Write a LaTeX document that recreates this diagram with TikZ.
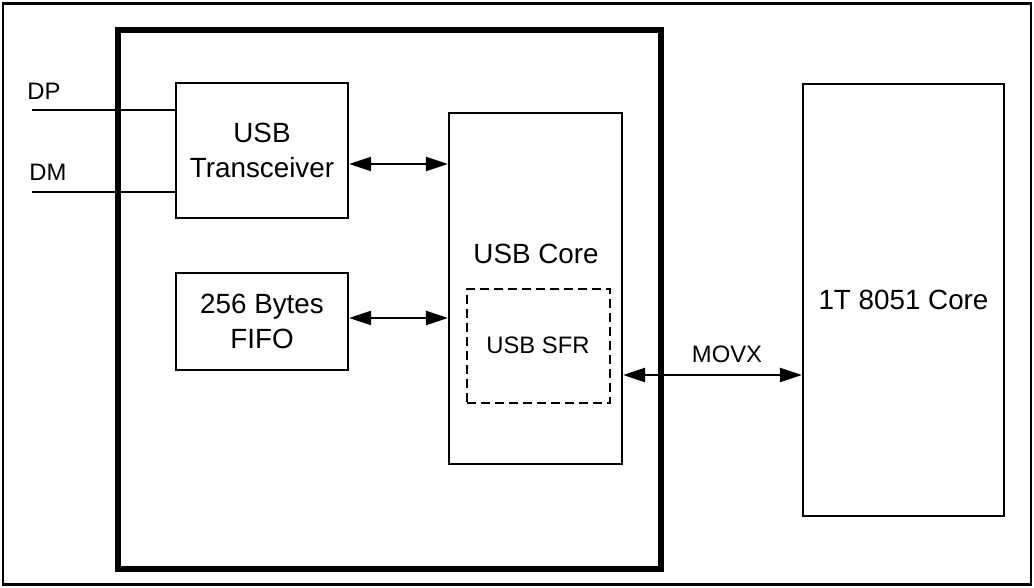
\documentclass[tikz,border=0pt]{standalone}
\usepackage{fontspec}
\setmainfont{Liberation Sans}
\usetikzlibrary{arrows.meta}
\begin{document}
\begin{tikzpicture}[x=1pt,y=-1pt,
  box/.style={draw,line width=2.2pt,rectangle,inner sep=0pt,align=center,font=\fontsize{27.8}{35}\selectfont},
  lbl/.style={inner sep=0pt,font=\fontsize{23.8}{28}\selectfont},
  big/.style={inner sep=0pt,font=\fontsize{27.8}{35}\selectfont},
  bus/.style={line width=2.2pt,{Triangle[length=22pt,width=14pt]}-{Triangle[length=22pt,width=14pt]}},
  wire/.style={line width=2.2pt}]
\useasboundingbox (0,0) rectangle (1034,588);
\node[draw,line width=2.2pt,minimum width=1028pt,minimum height=581pt,inner sep=0pt] (frame) at (517,294) {};
\node[draw,line width=5.5pt,minimum width=543pt,minimum height=539pt,inner sep=0pt] (chip) at (389.5,299.5) {};
\node[box,minimum width=172pt,minimum height=135pt] (trans) at (262,150.5) {USB\\Transceiver};
\node[box,minimum width=172pt,minimum height=97pt] (fifo) at (262,321.5) {256 Bytes\\FIFO};
\node[box,minimum width=173pt,minimum height=351pt] (core) at (535.5,288.5) {};
\node[big] (corelbl) at (536,254) {USB Core};
\node[draw,line width=2.2pt,dash pattern=on 9pt off 5pt,minimum width=143pt,minimum height=114pt,inner sep=0pt] (sfr) at (538.5,346) {};
\node[lbl] (sfrlbl) at (538,345) {USB SFR};
\node[box,minimum width=201pt,minimum height=432pt] (cpu) at (903.5,300) {1T 8051 Core};
\coordinate (dp) at (32,110);
\coordinate (dm) at (32,192);
\node[lbl] (dplbl) at (44,91) {DP};
\node[lbl] (dmlbl) at (48,172) {DM};
\draw[wire] (dp) -- (dp -| trans.west);
\draw[wire] (dm) -- (dm -| trans.west);
\coordinate (a1) at (0,164);
\coordinate (a2) at (0,318);
\coordinate (a3) at (0,375);
\draw[bus] (a1 -| trans.east) -- (a1 -| core.west);
\draw[bus] (a2 -| fifo.east) -- (a2 -| core.west);
\draw[bus] (a3 -| core.east) -- (a3 -| cpu.west);
\node[lbl] (movx) at (727,354) {MOVX};
\end{tikzpicture}
\end{document}
